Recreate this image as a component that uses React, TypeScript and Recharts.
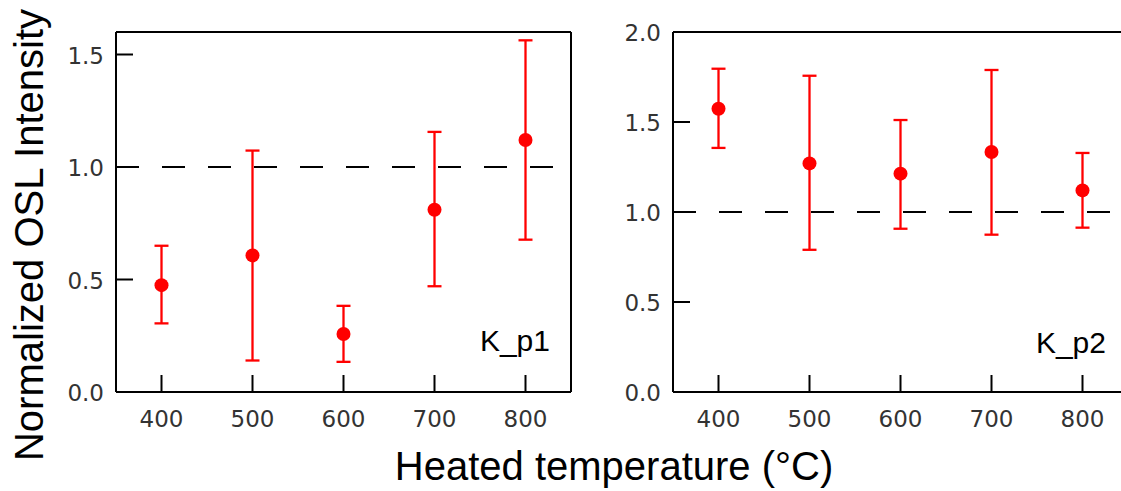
import React from 'react';
import { ScatterChart, Scatter, ErrorBar, XAxis, YAxis, ReferenceLine } from 'recharts';

// heating temperatures (°C)
const temperatures = [400, 500, 600, 700, 800];

// K_p1 normalized OSL intensity, with lower / upper error limits
const p1Values = [0.475, 0.607, 0.258, 0.81, 1.12];
const p1Upper = [0.65, 1.073, 0.383, 1.156, 1.563];
const p1Lower = [0.305, 0.14, 0.134, 0.47, 0.677];

// K_p2
const p2Values = [1.574, 1.27, 1.213, 1.333, 1.12];
const p2Upper = [1.796, 1.757, 1.511, 1.789, 1.328];
const p2Lower = [1.356, 0.79, 0.907, 0.874, 0.913];

const xTicks = [400, 500, 600, 700, 800];
const p1YTicks = [0, 0.5, 1.0, 1.5];
const p2YTicks = [0, 0.5, 1.0, 1.5, 2.0];

const TICK_FONT = '"DejaVu Sans", sans-serif';
const TITLE_FONT = '"Liberation Sans", Arial, sans-serif';

function buildRows(values: number[], lower: number[], upper: number[]) {
  return temperatures.map((t, i) => ({
    temp: t,
    value: values[i],
    err: [values[i] - lower[i], upper[i] - values[i]],
  }));
}

const XTick = (props: any) => {
  const { x, y, payload } = props;
  return (
    <g>
      <line x1={x} x2={x} y1={y} y2={y - 17} stroke="#000" strokeWidth={2} />
      <text x={x} y={y + 35} textAnchor="middle" fontFamily={TICK_FONT} fontSize={23} fill="#333">
        {payload.value}
      </text>
    </g>
  );
};

const YTick = (props: any) => {
  const { x, y, payload } = props;
  return (
    <g>
      <line x1={x} x2={x + 17} y1={y} y2={y} stroke="#000" strokeWidth={2} />
      <text x={x - 12} y={y + 9} textAnchor="end" fontFamily={TICK_FONT} fontSize={23} fill="#333">
        {Number(payload.value).toFixed(1)}
      </text>
    </g>
  );
};

const Dot = (props: any) => <circle cx={props.cx} cy={props.cy} r={7} fill="#ff0000" />;

interface PanelProps {
  rows: { temp: number; value: number; err: number[] }[];
  yMax: number;
  yTicks: number[];
  left: number;
  marginLeft: number;
}

function Panel({ rows, yMax, yTicks, left, marginLeft }: PanelProps) {
  const axisStroke = { stroke: '#000', strokeWidth: 2 };
  const marginRight = 600 - marginLeft - 455;
  return (
    <div style={{ position: 'absolute', left, top: 0 }}>
      <ScatterChart
        width={600}
        height={440}
        data={rows}
        margin={{ top: 0, right: 0, bottom: 0, left: 0 }}
      >
        <XAxis
          dataKey="temp"
          type="number"
          domain={[350, 850]}
          ticks={xTicks}
          height={48}
          tickSize={0}
          tickMargin={0}
          tickLine={false}
          axisLine={axisStroke}
          tick={<XTick />}
        />
        <XAxis
          xAxisId="top"
          orientation="top"
          type="number"
          domain={[350, 850]}
          height={32}
          tick={false}
          tickLine={false}
          axisLine={axisStroke}
        />
        <YAxis
          dataKey="value"
          type="number"
          domain={[0, yMax]}
          ticks={yTicks}
          width={marginLeft}
          tickSize={0}
          tickMargin={0}
          tickLine={false}
          axisLine={axisStroke}
          tick={<YTick />}
        />
        <YAxis
          yAxisId="right"
          orientation="right"
          type="number"
          domain={[0, yMax]}
          width={marginRight}
          tick={false}
          tickLine={false}
          axisLine={axisStroke}
        />
        <ReferenceLine y={1} stroke="#000" strokeWidth={2} strokeDasharray="23 23" />
        <Scatter data={rows} dataKey="value" shape={<Dot />} isAnimationActive={false}>
          <ErrorBar
            dataKey="err"
            direction="y"
            width={7}
            stroke="#ff0000"
            strokeWidth={2.3}
            isAnimationActive={false}
          />
        </Scatter>
      </ScatterChart>
    </div>
  );
}

export default function App() {
  const p1Rows = buildRows(p1Values, p1Lower, p1Upper);
  const p2Rows = buildRows(p2Values, p2Lower, p2Upper);
  return (
    <div
      style={{
        position: 'fixed',
        left: 0,
        top: 0,
        width: 1121,
        height: 491,
        overflow: 'hidden',
        background: '#fff',
      }}
    >
      <Panel rows={p1Rows} yMax={1.6} yTicks={p1YTicks} left={0} marginLeft={116} />
      <Panel rows={p2Rows} yMax={2.0} yTicks={p2YTicks} left={560} marginLeft={113} />
      <svg
        width={1121}
        height={491}
        style={{ position: 'absolute', left: 0, top: 0, pointerEvents: 'none' }}
      >
        <text
          transform="rotate(-90)"
          x={-235}
          y={43}
          textAnchor="middle"
          fontFamily={TITLE_FONT}
          fontSize={40}
          fill="#000"
        >
          Normalized OSL Intensity
        </text>
        <text x={614} y={480} textAnchor="middle" fontFamily={TITLE_FONT} fontSize={40} fill="#000">
          Heated temperature (°C)
        </text>
        <text x={550} y={351} textAnchor="end" fontFamily={TITLE_FONT} fontSize={30} fill="#000">
          K_p1
        </text>
        <text x={1106} y={353} textAnchor="end" fontFamily={TITLE_FONT} fontSize={30} fill="#000">
          K_p2
        </text>
      </svg>
    </div>
  );
}
